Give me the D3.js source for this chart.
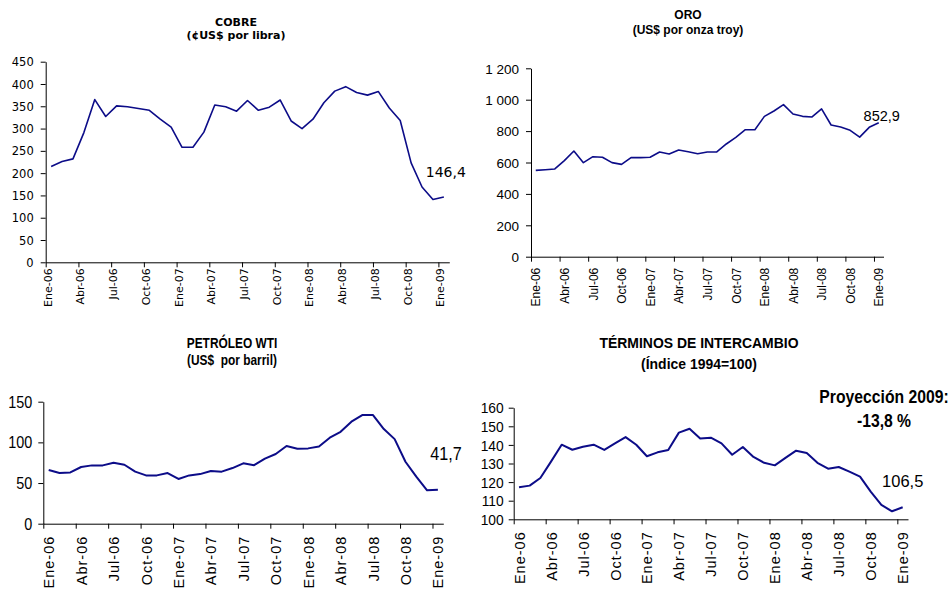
<!DOCTYPE html>
<html>
<head>
<meta charset="utf-8">
<script src="https://cdn.jsdelivr.net/npm/d3@7"></script>
<style>
  html, body { margin: 0; padding: 0; background: #fff; }
  svg { display: block; }
</style>
</head>
<body>
<svg id="chart" width="952" height="590"></svg>
<script>
// ---------- DATA ----------
const categories = [
  "Ene-06","Feb-06","Mar-06","Abr-06","May-06","Jun-06","Jul-06","Ago-06","Sep-06","Oct-06","Nov-06","Dic-06",
  "Ene-07","Feb-07","Mar-07","Abr-07","May-07","Jun-07","Jul-07","Ago-07","Sep-07","Oct-07","Nov-07","Dic-07",
  "Ene-08","Feb-08","Mar-08","Abr-08","May-08","Jun-08","Jul-08","Ago-08","Sep-08","Oct-08","Nov-08","Dic-08",
  "Ene-09"
];

const cobre = [215, 226, 232, 291, 365, 327, 351, 349, 345, 341, 321, 303,
               258, 258, 292, 353, 349, 339, 363, 341, 348, 364, 317, 300,
               321, 358, 384, 394, 381, 375, 383, 346, 318, 223, 169, 141,
               146.4];

const oro = [550, 554, 559, 612, 673, 599, 637, 633, 599, 588, 631, 631,
             633, 667, 654, 680, 669, 656, 667, 667, 718, 760, 809, 809,
             894, 928, 969, 909, 894, 890, 941, 839, 826, 805, 762, 824,
             852.9];

const petroleo = [66, 62.3, 63, 69.7, 71.7, 71.7, 75, 72.5, 64, 59.4, 59.4, 62.3,
                  55, 59.4, 61, 64.8, 64, 68.4, 74.2, 72, 80, 85.7, 95.5, 92.2,
                  92.6, 95, 105.7, 113, 125.4, 133.6, 133.6, 116.4, 104, 76.2, 57.8, 41.0,
                  41.7];

const terminos = [117.2, 118.1, 122.2, 131, 140.1, 137.4, 139, 140.1, 137.3, 140.8, 144.2, 140.1,
                  133.9, 136, 137.3, 146.6, 148.7, 143.5, 143.9, 140.8, 134.7, 138.9, 133.5, 130.4,
                  129, 133, 136.9, 135.6, 130.4, 127.2, 128.1, 125.6, 122.9, 114.9, 107.7, 104.3,
                  106.5];

const cobreTicks = [0, 50, 100, 150, 200, 250, 300, 350, 400, 450];
const oroTicks = [0, 200, 400, 600, 800, 1000, 1200];
const petroleoTicks = [0, 50, 100, 150];
const terminosTicks = [100, 110, 120, 130, 140, 150, 160];

const titles = {
  cobre: ["COBRE", "(¢US$ por libra)"],
  oro: ["ORO", "(US$ por onza troy)"],
  petroleo: ["PETRÓLEO WTI", "(US$  por barril)"],
  terminos: ["TÉRMINOS DE INTERCAMBIO", "(Índice 1994=100)"]
};
const lastLabels = { cobre: "146,4", oro: "852,9", petroleo: "41,7", terminos: "106,5" };
const note = ["Proyección 2009:", "-13,8 %"];

// ---------- DRAW ----------
const svg = d3.select("#chart");
const loc = d3.formatLocale({ decimal: ",", thousands: " ", grouping: [3], currency: ["", ""] });
const fmtThousands = loc.format(",");

const ARIAL = "'Liberation Sans', Arial, sans-serif";
const DEJAVU = "'DejaVu Sans', Verdana, sans-serif";
const LINE = "#0c0c88";

function addText(parent, x, y, txt, o) {
  return parent.append("text")
    .attr("transform", `translate(${x},${y}) scale(${o.sx || 1},1)`)
    .attr("text-anchor", o.anchor || "middle")
    .style("font-family", o.font)
    .style("font-size", o.size + "px")
    .style("font-weight", o.bold ? "bold" : "normal")
    .style("white-space", "pre")
    .attr("fill", "#000")
    .text(txt);
}

function panel(cfg) {
  const g = svg.append("g");
  const n = categories.length;
  const x = d3.scaleLinear().domain([0, n]).range([cfg.x0, cfg.x1]);
  const y = d3.scaleLinear().domain(cfg.domain).range([cfg.yBot, cfg.yTop]);
  const bw = x(1) - x(0);
  const sx = cfg.sx || 1;

  // titles
  cfg.title.forEach((t, i) => {
    addText(g, cfg.titleX, cfg.titleY[i], t,
      { font: cfg.titleFont, size: cfg.titleSize[i], bold: true, sx: cfg.titleSx || 1 });
  });

  // y axis
  const ya = d3.axisLeft(y).tickValues(cfg.yTicks).tickSize(5).tickSizeOuter(0)
    .tickFormat(cfg.yFormat || (d => d));
  const yg = g.append("g").attr("transform", `translate(${cfg.x0},0)`).call(ya);
  yg.selectAll("path, line").attr("stroke", "#000");
  yg.selectAll("text")
    .attr("x", 0).attr("y", 0).attr("dy", "0.35em")
    .attr("transform", `translate(${-(5 + cfg.yPad)},0) scale(${sx},1)`)
    .style("text-anchor", "end")
    .style("font-family", cfg.tickFont).style("font-size", cfg.yTickSize + "px").attr("fill", "#000");

  // x axis
  const xa = d3.axisBottom(x).tickValues(d3.range(0, n, 3)).tickSize(5).tickSizeOuter(0)
    .tickFormat(i => categories[i]);
  const xg = g.append("g").attr("transform", `translate(0,${cfg.yBot})`).call(xa);
  xg.selectAll("path, line").attr("stroke", "#000");
  xg.selectAll("text")
    .attr("x", 0).attr("y", 0).attr("dy", "0.35em")
    .attr("transform", `translate(${bw * cfg.labelShift},${cfg.xLabelOff}) rotate(-90) scale(${cfg.xSx || 1},1)`)
    .style("text-anchor", "end")
    .style("font-family", cfg.tickFont)
    .style("font-size", cfg.xTickSize + "px")
    .style("letter-spacing", (cfg.xSpacing || 0) + "px")
    .attr("fill", "#000");

  // line
  const line = d3.line().x((d, i) => x(i + 0.5)).y(d => y(d));
  g.append("path").datum(cfg.data)
    .attr("d", line).attr("fill", "none")
    .attr("stroke", LINE).attr("stroke-width", cfg.lineW)
    .attr("stroke-linejoin", "round");

  // last value label
  addText(g, x(n - 0.5) + cfg.lblDx, y(cfg.data[n - 1]) + cfg.lblDy, cfg.lastLabel,
    { font: cfg.lblFont, size: cfg.lblSize, sx: cfg.lblSx || 1 });
  return { g, x, y };
}

panel({
  data: cobre, title: titles.cobre, lastLabel: lastLabels.cobre,
  x0: 45.7, x1: 449.3, yTop: 61.7, yBot: 262.3, domain: [0, 450], yTicks: cobreTicks,
  titleX: 236, titleY: [26, 39], titleFont: DEJAVU, titleSize: [11, 11],
  tickFont: DEJAVU, yTickSize: 11.5, xTickSize: 11, yPad: 7, labelShift: 0.15, xLabelOff: 6,
  lineW: 1.6, lblFont: DEJAVU, lblSize: 14, lblDx: 2, lblDy: -20
});

panel({
  data: oro, title: titles.oro, lastLabel: lastLabels.oro,
  x0: 531, x1: 883.5, yTop: 68.3, yBot: 256.7, domain: [0, 1200], yTicks: oroTicks,
  yFormat: fmtThousands,
  titleX: 688, titleY: [19, 34], titleFont: ARIAL, titleSize: [12, 12],
  tickFont: ARIAL, yTickSize: 13.5, xTickSize: 12, yPad: 7, labelShift: 0.5, xLabelOff: 11,
  lineW: 1.6, lblFont: ARIAL, lblSize: 14.5, lblDx: 3, lblDy: -2
});

panel({
  data: petroleo, title: titles.petroleo, lastLabel: lastLabels.petroleo,
  x0: 43.3, x1: 443.3, yTop: 401.7, yBot: 523.7, domain: [0, 150], yTicks: petroleoTicks,
  titleX: 232, titleY: [348, 365], titleFont: ARIAL, titleSize: [14, 14], titleSx: 0.85,
  tickFont: ARIAL, sx: 0.9, yTickSize: 16, xTickSize: 14.5, xSpacing: 1, yPad: 6, labelShift: 0.5, xLabelOff: 12,
  lineW: 2, lblFont: ARIAL, lblSize: 18, lblSx: 0.9, lblDx: 8, lblDy: -30
});

panel({
  data: terminos, title: titles.terminos, lastLabel: lastLabels.terminos,
  x0: 513.7, x1: 908, yTop: 407.7, yBot: 519.3, domain: [100, 160], yTicks: terminosTicks,
  titleX: 699, titleY: [348, 369], titleFont: ARIAL, titleSize: [15.5, 15.5], titleSx: 0.9,
  tickFont: ARIAL, sx: 0.92, yTickSize: 15, xTickSize: 14.5, xSpacing: 1, yPad: 5, labelShift: 0.5, xLabelOff: 12,
  lineW: 2, lblFont: ARIAL, lblSize: 17, lblSx: 0.97, lblDx: 0, lblDy: -20
});

note.forEach((t, i) => {
  addText(svg, 884, [403, 427][i], t, { font: ARIAL, size: 18.5, sx: 0.85, bold: true });
});
</script>
</body>
</html>
